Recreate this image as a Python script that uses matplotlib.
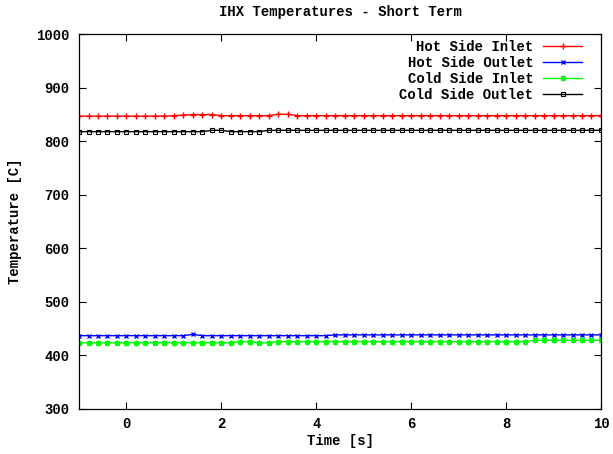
import matplotlib
matplotlib.use("Agg")
import matplotlib.pyplot as plt

plt.rcParams["font.family"] = ["Liberation Mono", "DejaVu Sans Mono"]
plt.rcParams["font.weight"] = "bold"
plt.rcParams["font.size"] = 10

# Sample times [s]
time_s = [-1.0, -0.8, -0.6, -0.4, -0.2, 0.0, 0.2, 0.4, 0.6, 0.8,
          1.0, 1.2, 1.4, 1.6, 1.8, 2.0, 2.2, 2.4, 2.6, 2.8,
          3.0, 3.2, 3.4, 3.6, 3.8, 4.0, 4.2, 4.4, 4.6, 4.8,
          5.0, 5.2, 5.4, 5.6, 5.8, 6.0, 6.2, 6.4, 6.6, 6.8,
          7.0, 7.2, 7.4, 7.6, 7.8, 8.0, 8.2, 8.4, 8.6, 8.8,
          9.0, 9.2, 9.4, 9.6, 9.8, 10.0]

# Temperatures [C]
hot_inlet = [847, 847, 847, 847, 847, 847, 847, 847, 847, 847,
             848, 849, 850, 850, 850, 848, 848, 848, 848, 848,
             848, 850.5, 850.5, 848, 848, 848, 848, 848, 848, 848,
             848, 848, 848, 848, 848, 848, 848, 848, 848, 848,
             848, 848, 848, 848, 848, 848, 848, 848, 848, 848,
             848, 848, 848, 848, 848, 848]

hot_outlet = [436.5, 436.5, 436.5, 436.5, 436.5, 436.5, 436.5, 436.5, 436.5, 436.5,
              436.5, 436.5, 439, 436.5, 436.5, 436.5, 436.5, 436.5, 436.5, 436.5,
              436.5, 436.5, 436.5, 436.5, 436.5, 436.5, 436.5, 438, 438, 438,
              438, 438, 438, 438, 438, 438, 438, 438, 438, 438,
              438, 438, 438, 438, 438, 438, 438, 438, 438, 438,
              438, 438, 438, 438, 438, 438]

cold_inlet = [423.3, 423.3, 423.3, 423.3, 423.3, 423.3, 423.3, 423.3, 423.3, 423.3,
              423.3, 423.3, 423.3, 423.3, 423.3, 423.3, 423.3, 425.5, 425.5, 423.3,
              423.3, 425.5, 425.5, 425.5, 425.5, 425.5, 425.5, 425.5, 425.5, 425.5,
              425.5, 425.5, 425.5, 425.5, 425.5, 425.5, 425.5, 425.5, 425.5, 425.5,
              425.5, 425.5, 425.5, 425.5, 425.5, 425.5, 425.5, 425.5, 428, 428,
              428, 428, 428, 428, 428, 428]

cold_outlet = [818, 818, 818, 818, 818, 818, 818, 818, 818, 818,
               818, 818, 818, 818, 820.5, 820.5, 818, 818, 818, 818,
               820.5, 820.5, 820.5, 820.5, 820.5, 820.5, 820.5, 820.5, 820.5, 820.5,
               820.5, 820.5, 820.5, 820.5, 820.5, 820.5, 820.5, 820.5, 820.5, 820.5,
               820.5, 820.5, 820.5, 820.5, 820.5, 820.5, 820.5, 820.5, 820.5, 820.5,
               820.5, 820.5, 820.5, 820.5, 820.5, 820.5]

fig = plt.figure(figsize=(6.13, 4.54), dpi=100)
ax = fig.add_axes([0.1289, 0.0998, 0.9804 - 0.1289, 0.9244 - 0.0998])

ax.plot(time_s, hot_inlet, color="#ff0000", marker="+", label="Hot Side Inlet",
        lw=1.0, ms=5, mew=1.0)
ax.plot(time_s, hot_outlet, color="#0000ff", marker="x", label="Hot Side Outlet",
        lw=1.0, ms=3.5, mew=1.0)
ax.plot(time_s, cold_inlet, color="#00ff00", marker=(8, 2, 0), label="Cold Side Inlet",
        lw=1.0, ms=4, mew=0.9)
ax.plot(time_s, cold_outlet, color="#000000", marker="s", mfc="none", label="Cold Side Outlet",
        lw=1.0, ms=3.2, mew=0.8)

ax.set_xlim(-1, 10)
ax.set_ylim(300, 1000)
ax.set_xticks([0, 2, 4, 6, 8, 10])
ax.set_yticks([300, 400, 500, 600, 700, 800, 900, 1000])
ax.tick_params(direction="in", length=5, width=0.8, top=True, right=True,
               labelsize=10)
ax.tick_params(axis="x", pad=6)
ax.tick_params(axis="y", pad=7)
for s in ax.spines.values():
    s.set_linewidth(0.9)

ax.set_title("IHX Temperatures - Short Term", fontsize=10, fontweight="bold", pad=13)
ax.set_xlabel("Time [s]", fontsize=10, fontweight="bold", labelpad=2)
ax.set_ylabel("Temperature [C]", fontsize=10, fontweight="bold", labelpad=10)

ax.legend(loc="upper right", bbox_to_anchor=(0.9636, 0.986), borderaxespad=0,
          borderpad=0, frameon=False, markerfirst=False, numpoints=1,
          handlelength=2.8, handletextpad=0.7, labelspacing=0.15, fontsize=10)

fig.savefig("out.png", dpi=100)
